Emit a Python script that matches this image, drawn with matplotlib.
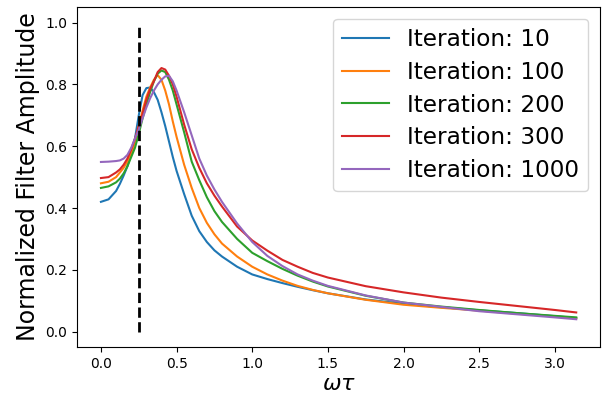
import numpy as np
import matplotlib
matplotlib.use('Agg')
import matplotlib.pyplot as plt

# omega*tau grid the curves were read at
w = [0.0, 0.05, 0.1, 0.125, 0.15, 0.175, 0.2, 0.225, 0.25, 0.275, 0.3, 0.325, 0.35, 0.375,
     0.4, 0.425, 0.45, 0.475, 0.5, 0.55, 0.6, 0.65, 0.7, 0.75, 0.8, 0.9, 1.0,
     1.1, 1.2, 1.3, 1.4, 1.5, 1.75, 2.0, 2.25, 2.5, 2.75, 3.0, np.pi]

it10 = [0.42, 0.428, 0.455, 0.478, 0.505, 0.535, 0.575, 0.625, 0.70, 0.765, 0.788, 0.79, 0.775, 0.75,
        0.71, 0.665, 0.615, 0.565, 0.52, 0.445, 0.375, 0.325, 0.29, 0.263, 0.243, 0.21, 0.185,
        0.17, 0.157, 0.145, 0.134, 0.124, 0.104, 0.09, 0.079, 0.069, 0.06, 0.05, 0.044]
it100 = [0.48, 0.485, 0.50, 0.515, 0.53, 0.55, 0.575, 0.615, 0.665, 0.715, 0.76, 0.79, 0.815, 0.83,
         0.815, 0.78, 0.735, 0.68, 0.63, 0.54, 0.465, 0.40, 0.352, 0.315, 0.285, 0.243, 0.21,
         0.185, 0.165, 0.148, 0.135, 0.124, 0.103, 0.087, 0.077, 0.068, 0.058, 0.049, 0.043]
it200 = [0.465, 0.47, 0.483, 0.495, 0.512, 0.535, 0.565, 0.595, 0.64, 0.69, 0.735, 0.775, 0.81, 0.835,
         0.845, 0.84, 0.815, 0.78, 0.735, 0.645, 0.55, 0.49, 0.435, 0.39, 0.355, 0.30, 0.255,
         0.228, 0.203, 0.181, 0.162, 0.146, 0.116, 0.094, 0.081, 0.07, 0.06, 0.051, 0.046]
it300 = [0.497, 0.50, 0.515, 0.525, 0.54, 0.56, 0.59, 0.625, 0.665, 0.705, 0.75, 0.785, 0.81, 0.84,
         0.853, 0.848, 0.828, 0.80, 0.76, 0.67, 0.59, 0.53, 0.48, 0.44, 0.405, 0.34, 0.295,
         0.262, 0.232, 0.21, 0.19, 0.175, 0.147, 0.127, 0.11, 0.096, 0.083, 0.07, 0.062]
it1000 = [0.549, 0.55, 0.552, 0.554, 0.56, 0.572, 0.595, 0.625, 0.655, 0.69, 0.725, 0.755, 0.78, 0.80,
          0.815, 0.826, 0.828, 0.81, 0.78, 0.71, 0.635, 0.56, 0.505, 0.46, 0.42, 0.35, 0.29,
          0.245, 0.212, 0.185, 0.165, 0.148, 0.117, 0.094, 0.08, 0.066, 0.056, 0.046, 0.040]

series = [it10, it100, it200, it300, it1000]
labels = ['Iteration: 10', 'Iteration: 100', 'Iteration: 200', 'Iteration: 300', 'Iteration: 1000']
cutoff = 0.25

fig, ax = plt.subplots(figsize=(6.03, 3.98), dpi=100)
fig.subplots_adjust(left=0.128, right=0.995, bottom=0.128, top=0.982)

for ys, lab in zip(series, labels):
    ax.plot(w, ys, label=lab)

# cutoff marker
ax.plot([cutoff, cutoff], [0, 1], 'k--', linewidth=2)

ax.set_xlabel(r'$\omega\tau$', fontsize=16, labelpad=2)
ax.set_ylabel('Normalized Filter Amplitude', fontsize=17)
ax.legend(fontsize=16.7, loc='upper right', labelspacing=0.42)

plt.savefig('out.png', dpi=100)
